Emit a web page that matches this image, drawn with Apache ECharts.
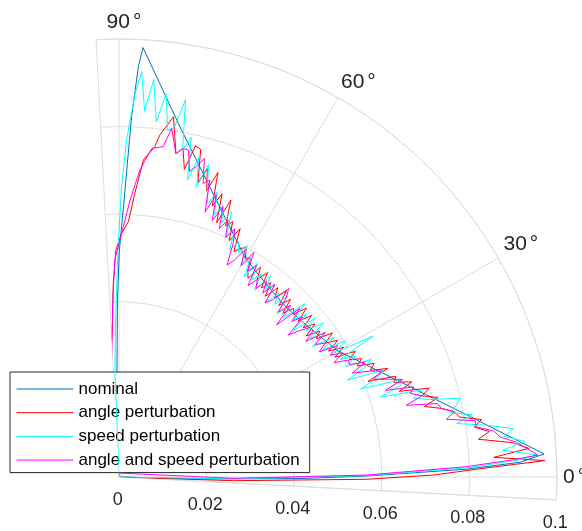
<!DOCTYPE html>
<html>
<head>
<meta charset="utf-8">
<script src="https://cdn.jsdelivr.net/npm/echarts@6/dist/echarts.min.js"></script>
<style>
  html, body { margin: 0; padding: 0; background: #fff; }
  #chart { width: 582px; height: 531px; }
</style>
</head>
<body>
<div id="chart"></div>
<script>
// ---------- data (radius, angle in degrees) ----------
const seriesNames = ['nominal', 'angle perturbation', 'speed perturbation', 'angle and speed perturbation'];
const seriesColors = ['#0072BD', '#FF0000', '#00FFFF', '#FF00FF'];

const radialTicks = [0, 0.02, 0.04, 0.06, 0.08, 0.1];
const radialTickLabels = ['0', '0.02', '0.04', '0.06', '0.08', '0.1'];
const angleTicks = [0, 30, 60, 90];
const angleTickLabels = ['0', '30', '60', '90'];

const nominalTheta = [-2, -1.4, -0.5, 0.23, 1.3, 2.1, 3.1, 10, 20, 30, 35, 40, 45, 50, 55, 60, 70, 80, 86.8, 87.3, 88.0, 89.1, 89.9, 90.5, 91.1, 92];
const nominalR = [0, 0.0185, 0.0413, 0.0566, 0.0795, 0.0916, 0.0972, 0.0809, 0.0663, 0.0577, 0.0560, 0.0549, 0.0544, 0.0549, 0.0560, 0.0577, 0.0663, 0.0809, 0.0982, 0.0938, 0.0823, 0.0610, 0.0518, 0.0404, 0.0240, 0];

const angleTheta = [-2, -1.85, -0.53, 0.36, 1.47, 2.2,
  3, 4, 5, 6, 7, 8, 9, 10, 11, 12,
  13, 14, 15, 16, 17, 18, 19, 20, 21, 22,
  23, 24, 25, 26, 27, 28, 29, 30, 31, 32,
  33, 34, 35, 36, 37, 38, 39, 40, 41, 42,
  43, 44, 45, 46, 47, 48, 49, 50, 51, 52,
  53, 54, 55, 56, 57, 58, 59, 60, 61, 62,
  63, 64, 65, 66, 67, 68, 69, 70, 71, 72,
  73, 74, 75, 76, 77, 78, 79, 80,
  81.4, 83.2, 83.8, 85.6, 86.8, 87.9, 89.4, 90.8, 91.7, 92.6, 93.3];
const angleR = [0, 0.0261, 0.0566, 0.0718, 0.0847, 0.0973,
  0.0857, 0.0938, 0.0901, 0.0825, 0.0852, 0.0819, 0.0838, 0.0789, 0.0780, 0.0753,
  0.0716, 0.0751, 0.0716, 0.0737, 0.0669, 0.0703, 0.0664, 0.0673, 0.0609, 0.0662,
  0.0623, 0.0638, 0.0600, 0.0616, 0.0590, 0.0611, 0.0564, 0.0592, 0.0558, 0.0589,
  0.0561, 0.0588, 0.0550, 0.0567, 0.0535, 0.0568, 0.0541, 0.0574, 0.0542, 0.0576,
  0.0545, 0.0554, 0.0529, 0.0564, 0.0535, 0.0571, 0.0542, 0.0564, 0.0531, 0.0563,
  0.0540, 0.0577, 0.0550, 0.0578, 0.0541, 0.0555, 0.0583, 0.0577, 0.0599, 0.0591,
  0.0578, 0.0631, 0.0595, 0.0638, 0.0623, 0.0682, 0.0622, 0.0688, 0.0654, 0.0731,
  0.0684, 0.0732, 0.0696, 0.0771, 0.0776, 0.0718, 0.0765, 0.0749,
  0.0832, 0.0786, 0.0759, 0.0726, 0.0649, 0.0583, 0.0556, 0.0518, 0.0442, 0.0336, 0.0302];

const speedTheta = [-2, -0.9, 0.35, 1.5, 2.4,
  3, 4, 5, 6, 7, 8, 9, 10, 11, 12,
  13, 14, 15, 16, 17, 18, 19, 20, 21, 22,
  23, 24, 25, 26, 27, 28, 29, 30, 31, 32,
  33, 34, 35, 36, 37, 38, 39, 40, 41, 42,
  43, 44, 45, 46, 47, 48, 49, 50, 51, 52,
  53, 54, 55, 56, 57, 58, 59, 60, 61, 62,
  63, 64, 65, 66, 67, 68, 69, 70, 71, 72,
  73, 74, 75, 76, 77, 78, 79, 80, 81, 82,
  83, 84, 85, 86,
  86.8, 87.6, 88.7, 89.5, 90.4, 91.4, 92.2, 93];
const speedR = [0, 0.0261, 0.0566, 0.0795, 0.0910,
  0.0958, 0.0878, 0.0931, 0.0885, 0.0907, 0.0849, 0.0781, 0.0819, 0.0770, 0.0788,
  0.0799, 0.0731, 0.0696, 0.0722, 0.0624, 0.0676, 0.0684, 0.0587, 0.0632, 0.0652,
  0.0566, 0.0613, 0.0635, 0.0576, 0.0608, 0.0571, 0.0664, 0.0567, 0.0603, 0.0549,
  0.0586, 0.0533, 0.0575, 0.0537, 0.0585, 0.0543, 0.0576, 0.0519, 0.0567, 0.0536,
  0.0580, 0.0524, 0.0554, 0.0519, 0.0565, 0.0531, 0.0557, 0.0519, 0.0566, 0.0543,
  0.0575, 0.0527, 0.0565, 0.0543, 0.0581, 0.0539, 0.0583, 0.0557, 0.0604, 0.0581,
  0.0603, 0.0576, 0.0625, 0.0603, 0.0658, 0.0627, 0.0662, 0.0638, 0.0689, 0.0656,
  0.0689, 0.0742, 0.0686, 0.0751, 0.0696, 0.0793, 0.0760, 0.0875, 0.0808, 0.0799,
  0.0882, 0.0815, 0.0911, 0.0838,
  0.0927, 0.0877, 0.0770, 0.0663, 0.0495, 0.0336, 0.0240, 0];

const bothTheta = [90, -0.65, 0.46, 1.7, 2.5, 3,
  4, 5, 6, 7, 8, 9, 10, 11, 12, 13,
  14, 15, 16, 17, 18, 19, 20, 21, 22, 23,
  24, 25, 26, 27, 28, 29, 30, 31, 32, 33,
  34, 35, 36, 37, 38, 39, 40, 41, 42, 43,
  44, 45, 46, 47, 48, 49, 50, 51, 52, 53,
  54, 55, 56, 57, 58, 59, 60, 61, 62, 63,
  64, 65, 66, 67, 68, 69, 70, 71, 72, 73,
  74, 75, 76, 77, 78, 79, 80,
  81.4, 82.4, 84.3, 86.1, 87.7, 89.8, 91.1, 92.0, 93.4];
const bothR = [0.0009, 0.0261, 0.0566, 0.0794, 0.0900, 0.0957,
  0.0933, 0.0911, 0.0875, 0.0862, 0.0824, 0.0823, 0.0759, 0.0780, 0.0753, 0.0746,
  0.0676, 0.0716, 0.0692, 0.0704, 0.0640, 0.0684, 0.0653, 0.0622, 0.0647, 0.0618,
  0.0583, 0.0620, 0.0586, 0.0588, 0.0556, 0.0584, 0.0557, 0.0583, 0.0539, 0.0561,
  0.0541, 0.0575, 0.0527, 0.0555, 0.0555, 0.0531, 0.0505, 0.0557, 0.0531, 0.0565,
  0.0500, 0.0554, 0.0524, 0.0560, 0.0579, 0.0537, 0.0519, 0.0566, 0.0533, 0.0560,
  0.0532, 0.0550, 0.0527, 0.0576, 0.0554, 0.0598, 0.0557, 0.0594, 0.0561, 0.0543,
  0.0596, 0.0625, 0.0598, 0.0638, 0.0612, 0.0662, 0.0623, 0.0682, 0.0636, 0.0709,
  0.0697, 0.0753, 0.0731, 0.0716, 0.0763, 0.0764, 0.0749,
  0.0805, 0.0761, 0.0754, 0.0703, 0.0633, 0.0541, 0.0496, 0.0404, 0.0279];

// ---------- chart ----------
const FONT = '"Liberation Sans", Arial, Helvetica, sans-serif';
const GRID = '#dedede';
const TEXT = '#262626';

function toPolar(theta, r) { return theta.map((t, i) => [r[i], t]); }

const seriesData = [
  toPolar(nominalTheta, nominalR),
  toPolar(angleTheta, angleR),
  toPolar(speedTheta, speedR),
  toPolar(bothTheta, bothR)
];

const chart = echarts.init(document.getElementById('chart'), null, { renderer: 'canvas' });

const option = {
  animation: false,
  backgroundColor: '#ffffff',
  textStyle: { fontFamily: FONT },
  polar: [
    { center: [119, 477], radius: [0, 438] },
    { center: [119, 477], radius: [0, 438] }
  ],
  angleAxis: [
    {
      polarIndex: 0, type: 'value', min: -3, max: 93,
      startAngle: -3, endAngle: 93, clockwise: false, interval: 96,
      axisLine: { show: true, lineStyle: { color: GRID, width: 1 } },
      axisTick: { show: false },
      axisLabel: { show: false },
      splitLine: { show: true, lineStyle: { color: GRID, width: 1 } }
    },
    {
      polarIndex: 1, type: 'value', min: 0, max: 90,
      startAngle: 0, endAngle: 90, clockwise: false, interval: 30,
      axisLine: { show: false },
      axisTick: { show: false },
      axisLabel: {
        show: true, margin: 6,
        formatter: function (v) {
          const i = angleTicks.indexOf(v);
          const txt = i >= 0 ? angleTickLabels[i] : String(v);
          return (v === 90 ? '{t|' : '{n|') + txt + '}{d|°}';
        },
        rich: {
          n: { fontSize: 21, color: TEXT, fontFamily: FONT },
          t: { fontSize: 21, color: TEXT, fontFamily: FONT, padding: [0, 0, 0, 10] },
          d: { fontSize: 21, color: TEXT, fontFamily: FONT, padding: [0, 0, 0, 3] }
        }
      },
      splitLine: { show: true, lineStyle: { color: GRID, width: 1 } }
    }
  ],
  radiusAxis: [
    {
      polarIndex: 0, type: 'value', min: 0, max: 0.1, interval: 0.02,
      axisLine: { show: true, lineStyle: { color: GRID, width: 1 } },
      axisTick: { show: false },
      axisLabel: {
        show: true, margin: -23, align: 'center', verticalAlign: 'middle',
        fontSize: 18, color: TEXT, fontFamily: FONT,
        formatter: function (v) {
          let best = 0;
          for (let i = 0; i < radialTicks.length; i++) {
            if (Math.abs(radialTicks[i] - v) < Math.abs(radialTicks[best] - v)) best = i;
          }
          return radialTickLabels[best];
        }
      },
      splitLine: { show: true, lineStyle: { color: GRID, width: 1 } }
    },
    {
      polarIndex: 1, type: 'value', min: 0, max: 0.1, show: false,
      axisLine: { show: false }, axisTick: { show: false }, axisLabel: { show: false },
      splitLine: { show: false }
    }
  ],
  legend: {
    orient: 'vertical',
    left: 10, top: 372,
    data: seriesNames,
    itemWidth: 57, itemHeight: 20, itemGap: 6.7,
    padding: [8.5, 10, 4, 6],
    backgroundColor: '#ffffff',
    borderColor: '#262626', borderWidth: 1, borderRadius: 0,
    itemStyle: { opacity: 0 },
    lineStyle: { width: 1 },
    textStyle: { fontSize: 17, color: '#000000', fontFamily: FONT },
    selectedMode: false
  },
  series: seriesNames.map((name, k) => ({
    name: name,
    type: 'line',
    coordinateSystem: 'polar',
    polarIndex: 0,
    symbol: 'none',
    showSymbol: false,
    clip: false,
    color: seriesColors[k],
    lineStyle: { color: seriesColors[k], width: 1 },
    data: seriesData[k],
    z: 2 + k
  }))
};

chart.setOption(option);
</script>
</body>
</html>
